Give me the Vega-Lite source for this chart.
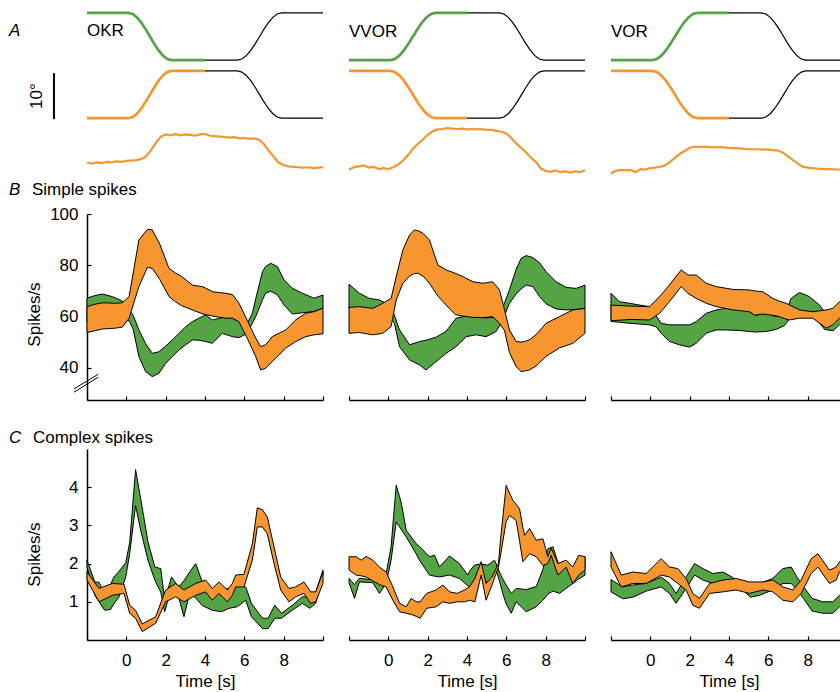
{
"$schema":"https://vega.github.io/schema/vega-lite/v6.json",
"padding":{"left":8,"top":7,"right":5,"bottom":5},
"config":{"view":{"stroke":null},"font":"Liberation Sans",
 "axis":{"domainColor":"black","domainWidth":1.5,"tickColor":"black","tickWidth":1.2,"tickSize":-4,"labelColor":"black","labelFontSize":17,"titleFontSize":17,"titleFontWeight":"normal","titleColor":"black","grid":false},
 "axisX":{"labelPadding":16,"titlePadding":5},
 "axisY":{"labelPadding":13},
 "text":{"fontSize":17,"color":"black"}},
"bounds":"flush",
"columns":3,
"spacing":{"row":49,"column":26},
"datasets":{
"tr":[
{"c":"OKR","s":"1c","t":-2,"v":33.8},{"c":"OKR","s":"1c","t":0.1,"v":33.8},{"c":"OKR","s":"1c","t":0.32,"v":33.55},{"c":"OKR","s":"1c","t":0.54,"v":32.8},{"c":"OKR","s":"1c","t":0.76,"v":31.64},{"c":"OKR","s":"1c","t":0.98,"v":30.18},{"c":"OKR","s":"1c","t":1.2,"v":28.55},{"c":"OKR","s":"1c","t":1.42,"v":26.92},{"c":"OKR","s":"1c","t":1.64,"v":25.46},{"c":"OKR","s":"1c","t":1.86,"v":24.3},{"c":"OKR","s":"1c","t":2.08,"v":23.55},{"c":"OKR","s":"1c","t":2.3,"v":23.3},{"c":"OKR","s":"1c","t":4,"v":23.3},
{"c":"OKR","s":"1k","t":4,"v":23.3},{"c":"OKR","s":"1k","t":5.65,"v":23.3},{"c":"OKR","s":"1k","t":5.875,"v":23.55},{"c":"OKR","s":"1k","t":6.1,"v":24.3},{"c":"OKR","s":"1k","t":6.325,"v":25.46},{"c":"OKR","s":"1k","t":6.55,"v":26.92},{"c":"OKR","s":"1k","t":6.775,"v":28.55},{"c":"OKR","s":"1k","t":7,"v":30.18},{"c":"OKR","s":"1k","t":7.225,"v":31.64},{"c":"OKR","s":"1k","t":7.45,"v":32.8},{"c":"OKR","s":"1k","t":7.675,"v":33.55},{"c":"OKR","s":"1k","t":7.9,"v":33.8},{"c":"OKR","s":"1k","t":10,"v":33.8},
{"c":"OKR","s":"2c","t":-2,"v":10.4},{"c":"OKR","s":"2c","t":0.1,"v":10.4},{"c":"OKR","s":"2c","t":0.32,"v":10.65},{"c":"OKR","s":"2c","t":0.54,"v":11.4},{"c":"OKR","s":"2c","t":0.76,"v":12.56},{"c":"OKR","s":"2c","t":0.98,"v":14.02},{"c":"OKR","s":"2c","t":1.2,"v":15.65},{"c":"OKR","s":"2c","t":1.42,"v":17.28},{"c":"OKR","s":"2c","t":1.64,"v":18.74},{"c":"OKR","s":"2c","t":1.86,"v":19.9},{"c":"OKR","s":"2c","t":2.08,"v":20.65},{"c":"OKR","s":"2c","t":2.3,"v":20.9},{"c":"OKR","s":"2c","t":4,"v":20.9},
{"c":"OKR","s":"2k","t":4,"v":20.9},{"c":"OKR","s":"2k","t":5.65,"v":20.9},{"c":"OKR","s":"2k","t":5.875,"v":20.65},{"c":"OKR","s":"2k","t":6.1,"v":19.9},{"c":"OKR","s":"2k","t":6.325,"v":18.74},{"c":"OKR","s":"2k","t":6.55,"v":17.28},{"c":"OKR","s":"2k","t":6.775,"v":15.65},{"c":"OKR","s":"2k","t":7,"v":14.02},{"c":"OKR","s":"2k","t":7.225,"v":12.56},{"c":"OKR","s":"2k","t":7.45,"v":11.4},{"c":"OKR","s":"2k","t":7.675,"v":10.65},{"c":"OKR","s":"2k","t":7.9,"v":10.4},{"c":"OKR","s":"2k","t":10,"v":10.4},
{"c":"OKR","s":"3","t":-2,"v":0.5},{"c":"OKR","s":"3","t":-1.75,"v":0.3},{"c":"OKR","s":"3","t":-1.5,"v":0.6},{"c":"OKR","s":"3","t":-1.25,"v":0.4},{"c":"OKR","s":"3","t":-1,"v":0.7},{"c":"OKR","s":"3","t":-0.75,"v":0.6},{"c":"OKR","s":"3","t":-0.5,"v":0.8},{"c":"OKR","s":"3","t":-0.25,"v":0.7},{"c":"OKR","s":"3","t":0,"v":0.9},{"c":"OKR","s":"3","t":0.25,"v":1.0},{"c":"OKR","s":"3","t":0.5,"v":1.1},{"c":"OKR","s":"3","t":0.75,"v":1.3},{"c":"OKR","s":"3","t":1,"v":1.9},{"c":"OKR","s":"3","t":1.25,"v":3.3},{"c":"OKR","s":"3","t":1.5,"v":4.9},{"c":"OKR","s":"3","t":1.75,"v":6.3},{"c":"OKR","s":"3","t":2,"v":6.8},{"c":"OKR","s":"3","t":2.25,"v":6.6},{"c":"OKR","s":"3","t":2.5,"v":6.9},{"c":"OKR","s":"3","t":2.75,"v":6.6},{"c":"OKR","s":"3","t":3,"v":6.8},{"c":"OKR","s":"3","t":3.25,"v":6.7},{"c":"OKR","s":"3","t":3.5,"v":6.5},{"c":"OKR","s":"3","t":3.75,"v":6.8},{"c":"OKR","s":"3","t":4,"v":6.9},{"c":"OKR","s":"3","t":4.25,"v":6.5},{"c":"OKR","s":"3","t":4.5,"v":6.4},{"c":"OKR","s":"3","t":4.75,"v":6.3},{"c":"OKR","s":"3","t":5,"v":6.2},{"c":"OKR","s":"3","t":5.25,"v":6.1},{"c":"OKR","s":"3","t":5.5,"v":6.2},{"c":"OKR","s":"3","t":5.75,"v":5.9},{"c":"OKR","s":"3","t":6,"v":6.0},{"c":"OKR","s":"3","t":6.25,"v":5.8},{"c":"OKR","s":"3","t":6.5,"v":5.9},{"c":"OKR","s":"3","t":6.75,"v":5.6},{"c":"OKR","s":"3","t":7,"v":4.6},{"c":"OKR","s":"3","t":7.25,"v":3.1},{"c":"OKR","s":"3","t":7.5,"v":1.8},{"c":"OKR","s":"3","t":7.75,"v":0.5},{"c":"OKR","s":"3","t":8,"v":0.0},{"c":"OKR","s":"3","t":8.25,"v":-0.3},{"c":"OKR","s":"3","t":8.5,"v":-0.4},{"c":"OKR","s":"3","t":8.75,"v":-0.5},{"c":"OKR","s":"3","t":9,"v":-0.6},{"c":"OKR","s":"3","t":9.25,"v":-0.5},{"c":"OKR","s":"3","t":9.5,"v":-0.7},{"c":"OKR","s":"3","t":9.75,"v":-0.6},{"c":"OKR","s":"3","t":10,"v":-0.5},
{"c":"VVOR","s":"1c","t":-2,"v":23.3},{"c":"VVOR","s":"1c","t":0.1,"v":23.3},{"c":"VVOR","s":"1c","t":0.33,"v":23.55},{"c":"VVOR","s":"1c","t":0.56,"v":24.3},{"c":"VVOR","s":"1c","t":0.79,"v":25.46},{"c":"VVOR","s":"1c","t":1.02,"v":26.92},{"c":"VVOR","s":"1c","t":1.25,"v":28.55},{"c":"VVOR","s":"1c","t":1.48,"v":30.18},{"c":"VVOR","s":"1c","t":1.71,"v":31.64},{"c":"VVOR","s":"1c","t":1.94,"v":32.8},{"c":"VVOR","s":"1c","t":2.17,"v":33.55},{"c":"VVOR","s":"1c","t":2.4,"v":33.8},{"c":"VVOR","s":"1c","t":4,"v":33.8},
{"c":"VVOR","s":"1k","t":4,"v":33.8},{"c":"VVOR","s":"1k","t":5.65,"v":33.8},{"c":"VVOR","s":"1k","t":5.875,"v":33.55},{"c":"VVOR","s":"1k","t":6.1,"v":32.8},{"c":"VVOR","s":"1k","t":6.325,"v":31.64},{"c":"VVOR","s":"1k","t":6.55,"v":30.18},{"c":"VVOR","s":"1k","t":6.775,"v":28.55},{"c":"VVOR","s":"1k","t":7,"v":26.92},{"c":"VVOR","s":"1k","t":7.225,"v":25.46},{"c":"VVOR","s":"1k","t":7.45,"v":24.3},{"c":"VVOR","s":"1k","t":7.675,"v":23.55},{"c":"VVOR","s":"1k","t":7.9,"v":23.3},{"c":"VVOR","s":"1k","t":10,"v":23.3},
{"c":"VVOR","s":"2c","t":-2,"v":20.9},{"c":"VVOR","s":"2c","t":0.1,"v":20.9},{"c":"VVOR","s":"2c","t":0.33,"v":20.65},{"c":"VVOR","s":"2c","t":0.56,"v":19.9},{"c":"VVOR","s":"2c","t":0.79,"v":18.74},{"c":"VVOR","s":"2c","t":1.02,"v":17.28},{"c":"VVOR","s":"2c","t":1.25,"v":15.65},{"c":"VVOR","s":"2c","t":1.48,"v":14.02},{"c":"VVOR","s":"2c","t":1.71,"v":12.56},{"c":"VVOR","s":"2c","t":1.94,"v":11.4},{"c":"VVOR","s":"2c","t":2.17,"v":10.65},{"c":"VVOR","s":"2c","t":2.4,"v":10.4},{"c":"VVOR","s":"2c","t":4,"v":10.4},
{"c":"VVOR","s":"2k","t":4,"v":10.4},{"c":"VVOR","s":"2k","t":5.65,"v":10.4},{"c":"VVOR","s":"2k","t":5.875,"v":10.65},{"c":"VVOR","s":"2k","t":6.1,"v":11.4},{"c":"VVOR","s":"2k","t":6.325,"v":12.56},{"c":"VVOR","s":"2k","t":6.55,"v":14.02},{"c":"VVOR","s":"2k","t":6.775,"v":15.65},{"c":"VVOR","s":"2k","t":7,"v":17.28},{"c":"VVOR","s":"2k","t":7.225,"v":18.74},{"c":"VVOR","s":"2k","t":7.45,"v":19.9},{"c":"VVOR","s":"2k","t":7.675,"v":20.65},{"c":"VVOR","s":"2k","t":7.9,"v":20.9},{"c":"VVOR","s":"2k","t":10,"v":20.9},
{"c":"VVOR","s":"3","t":-2,"v":-1.0},{"c":"VVOR","s":"3","t":-1.75,"v":-0.5},{"c":"VVOR","s":"3","t":-1.5,"v":-0.3},{"c":"VVOR","s":"3","t":-1.25,"v":-0.1},{"c":"VVOR","s":"3","t":-1,"v":-0.6},{"c":"VVOR","s":"3","t":-0.75,"v":-0.4},{"c":"VVOR","s":"3","t":-0.5,"v":-0.9},{"c":"VVOR","s":"3","t":-0.25,"v":-0.7},{"c":"VVOR","s":"3","t":0,"v":-0.9},{"c":"VVOR","s":"3","t":0.25,"v":-0.5},{"c":"VVOR","s":"3","t":0.5,"v":0.1},{"c":"VVOR","s":"3","t":0.75,"v":1.0},{"c":"VVOR","s":"3","t":1,"v":2.2},{"c":"VVOR","s":"3","t":1.25,"v":3.6},{"c":"VVOR","s":"3","t":1.5,"v":4.7},{"c":"VVOR","s":"3","t":1.75,"v":5.6},{"c":"VVOR","s":"3","t":2,"v":6.7},{"c":"VVOR","s":"3","t":2.25,"v":7.5},{"c":"VVOR","s":"3","t":2.5,"v":7.9},{"c":"VVOR","s":"3","t":2.75,"v":8.0},{"c":"VVOR","s":"3","t":3,"v":8.2},{"c":"VVOR","s":"3","t":3.25,"v":8.1},{"c":"VVOR","s":"3","t":3.5,"v":8.0},{"c":"VVOR","s":"3","t":3.75,"v":8.1},{"c":"VVOR","s":"3","t":4,"v":7.9},{"c":"VVOR","s":"3","t":4.25,"v":8.0},{"c":"VVOR","s":"3","t":4.5,"v":7.9},{"c":"VVOR","s":"3","t":4.75,"v":8.0},{"c":"VVOR","s":"3","t":5,"v":7.8},{"c":"VVOR","s":"3","t":5.25,"v":7.8},{"c":"VVOR","s":"3","t":5.5,"v":7.6},{"c":"VVOR","s":"3","t":5.75,"v":7.4},{"c":"VVOR","s":"3","t":6,"v":7.0},{"c":"VVOR","s":"3","t":6.25,"v":6.0},{"c":"VVOR","s":"3","t":6.5,"v":4.8},{"c":"VVOR","s":"3","t":6.75,"v":3.8},{"c":"VVOR","s":"3","t":7,"v":2.8},{"c":"VVOR","s":"3","t":7.25,"v":1.6},{"c":"VVOR","s":"3","t":7.5,"v":0.7},{"c":"VVOR","s":"3","t":7.75,"v":-0.8},{"c":"VVOR","s":"3","t":8,"v":-1.3},{"c":"VVOR","s":"3","t":8.25,"v":-1.5},{"c":"VVOR","s":"3","t":8.5,"v":-1.2},{"c":"VVOR","s":"3","t":8.75,"v":-1.6},{"c":"VVOR","s":"3","t":9,"v":-1.4},{"c":"VVOR","s":"3","t":9.25,"v":-1.7},{"c":"VVOR","s":"3","t":9.5,"v":-1.4},{"c":"VVOR","s":"3","t":9.75,"v":-1.6},{"c":"VVOR","s":"3","t":10,"v":-1.2},
{"c":"VOR","s":"1c","t":-2,"v":23.3},{"c":"VOR","s":"1c","t":0.1,"v":23.3},{"c":"VOR","s":"1c","t":0.33,"v":23.55},{"c":"VOR","s":"1c","t":0.56,"v":24.3},{"c":"VOR","s":"1c","t":0.79,"v":25.46},{"c":"VOR","s":"1c","t":1.02,"v":26.92},{"c":"VOR","s":"1c","t":1.25,"v":28.55},{"c":"VOR","s":"1c","t":1.48,"v":30.18},{"c":"VOR","s":"1c","t":1.71,"v":31.64},{"c":"VOR","s":"1c","t":1.94,"v":32.8},{"c":"VOR","s":"1c","t":2.17,"v":33.55},{"c":"VOR","s":"1c","t":2.4,"v":33.8},{"c":"VOR","s":"1c","t":4,"v":33.8},
{"c":"VOR","s":"1k","t":4,"v":33.8},{"c":"VOR","s":"1k","t":5.65,"v":33.8},{"c":"VOR","s":"1k","t":5.875,"v":33.55},{"c":"VOR","s":"1k","t":6.1,"v":32.8},{"c":"VOR","s":"1k","t":6.325,"v":31.64},{"c":"VOR","s":"1k","t":6.55,"v":30.18},{"c":"VOR","s":"1k","t":6.775,"v":28.55},{"c":"VOR","s":"1k","t":7,"v":26.92},{"c":"VOR","s":"1k","t":7.225,"v":25.46},{"c":"VOR","s":"1k","t":7.45,"v":24.3},{"c":"VOR","s":"1k","t":7.675,"v":23.55},{"c":"VOR","s":"1k","t":7.9,"v":23.3},{"c":"VOR","s":"1k","t":10,"v":23.3},
{"c":"VOR","s":"2c","t":-2,"v":20.9},{"c":"VOR","s":"2c","t":0.1,"v":20.9},{"c":"VOR","s":"2c","t":0.33,"v":20.65},{"c":"VOR","s":"2c","t":0.56,"v":19.9},{"c":"VOR","s":"2c","t":0.79,"v":18.74},{"c":"VOR","s":"2c","t":1.02,"v":17.28},{"c":"VOR","s":"2c","t":1.25,"v":15.65},{"c":"VOR","s":"2c","t":1.48,"v":14.02},{"c":"VOR","s":"2c","t":1.71,"v":12.56},{"c":"VOR","s":"2c","t":1.94,"v":11.4},{"c":"VOR","s":"2c","t":2.17,"v":10.65},{"c":"VOR","s":"2c","t":2.4,"v":10.4},{"c":"VOR","s":"2c","t":4,"v":10.4},
{"c":"VOR","s":"2k","t":4,"v":10.4},{"c":"VOR","s":"2k","t":5.65,"v":10.4},{"c":"VOR","s":"2k","t":5.875,"v":10.65},{"c":"VOR","s":"2k","t":6.1,"v":11.4},{"c":"VOR","s":"2k","t":6.325,"v":12.56},{"c":"VOR","s":"2k","t":6.55,"v":14.02},{"c":"VOR","s":"2k","t":6.775,"v":15.65},{"c":"VOR","s":"2k","t":7,"v":17.28},{"c":"VOR","s":"2k","t":7.225,"v":18.74},{"c":"VOR","s":"2k","t":7.45,"v":19.9},{"c":"VOR","s":"2k","t":7.675,"v":20.65},{"c":"VOR","s":"2k","t":7.9,"v":20.9},{"c":"VOR","s":"2k","t":10,"v":20.9},
{"c":"VOR","s":"3","t":-2,"v":-1.9},{"c":"VOR","s":"3","t":-1.75,"v":-1.3},{"c":"VOR","s":"3","t":-1.5,"v":-1.1},{"c":"VOR","s":"3","t":-1.25,"v":-1.2},{"c":"VOR","s":"3","t":-1,"v":-1.1},{"c":"VOR","s":"3","t":-0.75,"v":-1.6},{"c":"VOR","s":"3","t":-0.5,"v":-0.9},{"c":"VOR","s":"3","t":-0.25,"v":-1.0},{"c":"VOR","s":"3","t":0,"v":-0.7},{"c":"VOR","s":"3","t":0.25,"v":-0.6},{"c":"VOR","s":"3","t":0.5,"v":-0.4},{"c":"VOR","s":"3","t":0.75,"v":-0.1},{"c":"VOR","s":"3","t":1,"v":0.7},{"c":"VOR","s":"3","t":1.25,"v":1.6},{"c":"VOR","s":"3","t":1.5,"v":2.5},{"c":"VOR","s":"3","t":1.75,"v":3.1},{"c":"VOR","s":"3","t":2,"v":3.8},{"c":"VOR","s":"3","t":2.25,"v":4.1},{"c":"VOR","s":"3","t":2.5,"v":4.0},{"c":"VOR","s":"3","t":2.75,"v":4.1},{"c":"VOR","s":"3","t":3,"v":4.0},{"c":"VOR","s":"3","t":3.25,"v":3.9},{"c":"VOR","s":"3","t":3.5,"v":4.0},{"c":"VOR","s":"3","t":3.75,"v":3.9},{"c":"VOR","s":"3","t":4,"v":3.8},{"c":"VOR","s":"3","t":4.5,"v":3.7},{"c":"VOR","s":"3","t":5,"v":3.5},{"c":"VOR","s":"3","t":5.5,"v":3.5},{"c":"VOR","s":"3","t":6,"v":3.4},{"c":"VOR","s":"3","t":6.5,"v":3.2},{"c":"VOR","s":"3","t":6.75,"v":2.7},{"c":"VOR","s":"3","t":7,"v":1.9},{"c":"VOR","s":"3","t":7.25,"v":1.1},{"c":"VOR","s":"3","t":7.5,"v":0.3},{"c":"VOR","s":"3","t":7.75,"v":-0.4},{"c":"VOR","s":"3","t":8,"v":-0.6},{"c":"VOR","s":"3","t":8.5,"v":-0.8},{"c":"VOR","s":"3","t":9,"v":-0.9},{"c":"VOR","s":"3","t":9.5,"v":-1.0},{"c":"VOR","s":"3","t":10,"v":-1.0}
],
"bands":[
{"r":"B","c":"OKR","s":"g","t":-2,"lo":58.0,"hi":67.2},{"r":"B","c":"OKR","s":"g","t":-1.6,"lo":58.4,"hi":68.2},{"r":"B","c":"OKR","s":"g","t":-1.22,"lo":58.5,"hi":68.8},{"r":"B","c":"OKR","s":"g","t":-0.71,"lo":58.0,"hi":67.8},{"r":"B","c":"OKR","s":"g","t":-0.2,"lo":58.5,"hi":66.1},{"r":"B","c":"OKR","s":"g","t":0.14,"lo":58.5,"hi":62.6},{"r":"B","c":"OKR","s":"g","t":0.35,"lo":55.0,"hi":60.5},{"r":"B","c":"OKR","s":"g","t":0.64,"lo":44.4,"hi":54.8},{"r":"B","c":"OKR","s":"g","t":0.98,"lo":38.6,"hi":49.5},{"r":"B","c":"OKR","s":"g","t":1.32,"lo":36.6,"hi":45.7},{"r":"B","c":"OKR","s":"g","t":1.66,"lo":37.9,"hi":46.3},{"r":"B","c":"OKR","s":"g","t":2.0,"lo":41.8,"hi":48.5},{"r":"B","c":"OKR","s":"g","t":2.34,"lo":44.5,"hi":50.9},{"r":"B","c":"OKR","s":"g","t":2.68,"lo":47.0,"hi":53.5},{"r":"B","c":"OKR","s":"g","t":3.02,"lo":49.0,"hi":56.1},{"r":"B","c":"OKR","s":"g","t":3.36,"lo":50.9,"hi":58.0},{"r":"B","c":"OKR","s":"g","t":3.69,"lo":50.8,"hi":59.4},{"r":"B","c":"OKR","s":"g","t":4.03,"lo":50.3,"hi":60.7},{"r":"B","c":"OKR","s":"g","t":4.37,"lo":49.6,"hi":58.7},{"r":"B","c":"OKR","s":"g","t":4.88,"lo":53.5,"hi":59.6},{"r":"B","c":"OKR","s":"g","t":5.39,"lo":52.2,"hi":59.4},{"r":"B","c":"OKR","s":"g","t":5.73,"lo":51.8,"hi":58.0},{"r":"B","c":"OKR","s":"g","t":6.15,"lo":53.5,"hi":57.4},{"r":"B","c":"OKR","s":"g","t":6.41,"lo":57.5,"hi":61.3},{"r":"B","c":"OKR","s":"g","t":6.58,"lo":60.0,"hi":67.0},{"r":"B","c":"OKR","s":"g","t":6.92,"lo":66.5,"hi":77.5},{"r":"B","c":"OKR","s":"g","t":7.08,"lo":69.1,"hi":79.5},{"r":"B","c":"OKR","s":"g","t":7.34,"lo":69.9,"hi":80.8},{"r":"B","c":"OKR","s":"g","t":7.68,"lo":68.5,"hi":79.5},{"r":"B","c":"OKR","s":"g","t":8.02,"lo":64.5,"hi":74.3},{"r":"B","c":"OKR","s":"g","t":8.44,"lo":61.0,"hi":71.1},{"r":"B","c":"OKR","s":"g","t":8.95,"lo":61.5,"hi":69.1},{"r":"B","c":"OKR","s":"g","t":9.54,"lo":62.0,"hi":67.2},{"r":"B","c":"OKR","s":"g","t":10,"lo":63.3,"hi":68.4},
{"r":"B","c":"OKR","s":"o","t":-2,"lo":53.8,"hi":63.9},{"r":"B","c":"OKR","s":"o","t":-1.6,"lo":54.5,"hi":64.8},{"r":"B","c":"OKR","s":"o","t":-1.2,"lo":55.2,"hi":65.4},{"r":"B","c":"OKR","s":"o","t":-0.55,"lo":55.5,"hi":65.2},{"r":"B","c":"OKR","s":"o","t":-0.2,"lo":55.9,"hi":65.4},{"r":"B","c":"OKR","s":"o","t":0.14,"lo":59.4,"hi":67.8},{"r":"B","c":"OKR","s":"o","t":0.64,"lo":71.7,"hi":89.9},{"r":"B","c":"OKR","s":"o","t":1.07,"lo":79.2,"hi":94.0},{"r":"B","c":"OKR","s":"o","t":1.32,"lo":78.8,"hi":93.8},{"r":"B","c":"OKR","s":"o","t":1.7,"lo":74.5,"hi":88.3},{"r":"B","c":"OKR","s":"o","t":2.17,"lo":67.8,"hi":78.8},{"r":"B","c":"OKR","s":"o","t":2.5,"lo":65.8,"hi":77.0},{"r":"B","c":"OKR","s":"o","t":2.8,"lo":64.3,"hi":75.7},{"r":"B","c":"OKR","s":"o","t":3.36,"lo":62.6,"hi":72.3},{"r":"B","c":"OKR","s":"o","t":3.9,"lo":61.0,"hi":71.6},{"r":"B","c":"OKR","s":"o","t":4.4,"lo":60.2,"hi":69.7},{"r":"B","c":"OKR","s":"o","t":5.05,"lo":59.4,"hi":69.1},{"r":"B","c":"OKR","s":"o","t":5.4,"lo":59.4,"hi":68.6},{"r":"B","c":"OKR","s":"o","t":5.73,"lo":58.0,"hi":65.2},{"r":"B","c":"OKR","s":"o","t":6.15,"lo":51.5,"hi":58.5},{"r":"B","c":"OKR","s":"o","t":6.58,"lo":44.4,"hi":51.6},{"r":"B","c":"OKR","s":"o","t":6.83,"lo":39.2,"hi":48.3},{"r":"B","c":"OKR","s":"o","t":7.08,"lo":39.9,"hi":49.0},{"r":"B","c":"OKR","s":"o","t":7.42,"lo":42.5,"hi":52.2},{"r":"B","c":"OKR","s":"o","t":8.1,"lo":47.7,"hi":54.8},{"r":"B","c":"OKR","s":"o","t":8.61,"lo":50.3,"hi":58.7},{"r":"B","c":"OKR","s":"o","t":9.12,"lo":52.2,"hi":61.3},{"r":"B","c":"OKR","s":"o","t":9.54,"lo":52.9,"hi":61.9},{"r":"B","c":"OKR","s":"o","t":10,"lo":53.3,"hi":63.3},
{"r":"B","c":"VVOR","s":"g","t":-2,"lo":63.0,"hi":72.6},{"r":"B","c":"VVOR","s":"g","t":-1.47,"lo":62.5,"hi":69.1},{"r":"B","c":"VVOR","s":"g","t":-0.96,"lo":62.0,"hi":67.1},{"r":"B","c":"VVOR","s":"g","t":-0.45,"lo":62.0,"hi":66.5},{"r":"B","c":"VVOR","s":"g","t":0.06,"lo":60.0,"hi":64.5},{"r":"B","c":"VVOR","s":"g","t":0.31,"lo":57.4,"hi":60.5},{"r":"B","c":"VVOR","s":"g","t":0.57,"lo":48.3,"hi":54.8},{"r":"B","c":"VVOR","s":"g","t":1.08,"lo":43.1,"hi":49.0},{"r":"B","c":"VVOR","s":"g","t":1.58,"lo":41.2,"hi":50.3},{"r":"B","c":"VVOR","s":"g","t":1.92,"lo":39.2,"hi":50.8},{"r":"B","c":"VVOR","s":"g","t":2.43,"lo":42.5,"hi":52.0},{"r":"B","c":"VVOR","s":"g","t":2.94,"lo":45.7,"hi":54.3},{"r":"B","c":"VVOR","s":"g","t":3.45,"lo":48.3,"hi":59.4},{"r":"B","c":"VVOR","s":"g","t":3.96,"lo":52.2,"hi":60.3},{"r":"B","c":"VVOR","s":"g","t":4.47,"lo":52.9,"hi":59.8},{"r":"B","c":"VVOR","s":"g","t":4.97,"lo":52.2,"hi":59.5},{"r":"B","c":"VVOR","s":"g","t":5.48,"lo":54.2,"hi":59.7},{"r":"B","c":"VVOR","s":"g","t":5.82,"lo":58.7,"hi":63.5},{"r":"B","c":"VVOR","s":"g","t":6.16,"lo":65.2,"hi":70.5},{"r":"B","c":"VVOR","s":"g","t":6.5,"lo":68.8,"hi":78.5},{"r":"B","c":"VVOR","s":"g","t":6.75,"lo":70.8,"hi":82.7},{"r":"B","c":"VVOR","s":"g","t":7.01,"lo":72.3,"hi":83.8},{"r":"B","c":"VVOR","s":"g","t":7.35,"lo":71.7,"hi":83.0},{"r":"B","c":"VVOR","s":"g","t":7.69,"lo":67.8,"hi":81.0},{"r":"B","c":"VVOR","s":"g","t":8.02,"lo":65.0,"hi":77.5},{"r":"B","c":"VVOR","s":"g","t":8.53,"lo":63.0,"hi":73.6},{"r":"B","c":"VVOR","s":"g","t":9.04,"lo":62.6,"hi":71.4},{"r":"B","c":"VVOR","s":"g","t":9.55,"lo":62.8,"hi":71.0},{"r":"B","c":"VVOR","s":"g","t":10,"lo":63.2,"hi":72.3},
{"r":"B","c":"VVOR","s":"o","t":-2,"lo":53.5,"hi":63.6},{"r":"B","c":"VVOR","s":"o","t":-1.47,"lo":53.8,"hi":63.9},{"r":"B","c":"VVOR","s":"o","t":-0.79,"lo":52.9,"hi":63.2},{"r":"B","c":"VVOR","s":"o","t":-0.28,"lo":53.5,"hi":65.2},{"r":"B","c":"VVOR","s":"o","t":0.14,"lo":56.1,"hi":67.1},{"r":"B","c":"VVOR","s":"o","t":0.4,"lo":66.5,"hi":75.6},{"r":"B","c":"VVOR","s":"o","t":0.74,"lo":73.0,"hi":86.0},{"r":"B","c":"VVOR","s":"o","t":1.08,"lo":75.8,"hi":91.8},{"r":"B","c":"VVOR","s":"o","t":1.33,"lo":76.8,"hi":93.8},{"r":"B","c":"VVOR","s":"o","t":1.5,"lo":76.9,"hi":93.5},{"r":"B","c":"VVOR","s":"o","t":1.76,"lo":75.8,"hi":92.5},{"r":"B","c":"VVOR","s":"o","t":2.09,"lo":73.0,"hi":89.9},{"r":"B","c":"VVOR","s":"o","t":2.52,"lo":68.0,"hi":80.1},{"r":"B","c":"VVOR","s":"o","t":2.94,"lo":64.5,"hi":78.2},{"r":"B","c":"VVOR","s":"o","t":3.4,"lo":60.8,"hi":76.9},{"r":"B","c":"VVOR","s":"o","t":3.79,"lo":60.2,"hi":75.6},{"r":"B","c":"VVOR","s":"o","t":4.3,"lo":59.7,"hi":73.6},{"r":"B","c":"VVOR","s":"o","t":4.81,"lo":59.6,"hi":73.0},{"r":"B","c":"VVOR","s":"o","t":5.31,"lo":60.0,"hi":73.6},{"r":"B","c":"VVOR","s":"o","t":5.65,"lo":57.4,"hi":70.4},{"r":"B","c":"VVOR","s":"o","t":5.91,"lo":54.5,"hi":62.6},{"r":"B","c":"VVOR","s":"o","t":6.16,"lo":46.0,"hi":54.8},{"r":"B","c":"VVOR","s":"o","t":6.5,"lo":40.5,"hi":50.3},{"r":"B","c":"VVOR","s":"o","t":6.75,"lo":38.6,"hi":50.1},{"r":"B","c":"VVOR","s":"o","t":6.93,"lo":38.8,"hi":50.3},{"r":"B","c":"VVOR","s":"o","t":7.18,"lo":39.2,"hi":51.0},{"r":"B","c":"VVOR","s":"o","t":7.52,"lo":40.8,"hi":53.0},{"r":"B","c":"VVOR","s":"o","t":8.02,"lo":44.5,"hi":57.4},{"r":"B","c":"VVOR","s":"o","t":8.7,"lo":47.8,"hi":60.0},{"r":"B","c":"VVOR","s":"o","t":9.38,"lo":49.6,"hi":62.6},{"r":"B","c":"VVOR","s":"o","t":10,"lo":53.5,"hi":63.2},
{"r":"B","c":"VOR","s":"g","t":-2,"lo":58.1,"hi":69.1},{"r":"B","c":"VOR","s":"g","t":-1.57,"lo":57.8,"hi":65.8},{"r":"B","c":"VOR","s":"g","t":-1.06,"lo":57.4,"hi":65.2},{"r":"B","c":"VOR","s":"g","t":-0.55,"lo":57.1,"hi":64.5},{"r":"B","c":"VOR","s":"g","t":-0.04,"lo":56.8,"hi":63.9},{"r":"B","c":"VOR","s":"g","t":0.3,"lo":56.0,"hi":60.3},{"r":"B","c":"VOR","s":"g","t":0.55,"lo":53.5,"hi":57.4},{"r":"B","c":"VOR","s":"g","t":0.97,"lo":50.3,"hi":56.8},{"r":"B","c":"VOR","s":"g","t":1.48,"lo":49.0,"hi":56.8},{"r":"B","c":"VOR","s":"g","t":1.99,"lo":48.1,"hi":56.8},{"r":"B","c":"VOR","s":"g","t":2.33,"lo":49.6,"hi":58.0},{"r":"B","c":"VOR","s":"g","t":2.84,"lo":53.5,"hi":61.3},{"r":"B","c":"VOR","s":"g","t":3.35,"lo":54.8,"hi":62.6},{"r":"B","c":"VOR","s":"g","t":3.86,"lo":54.8,"hi":63.2},{"r":"B","c":"VOR","s":"g","t":4.53,"lo":54.6,"hi":63.2},{"r":"B","c":"VOR","s":"g","t":5.04,"lo":54.2,"hi":61.9},{"r":"B","c":"VOR","s":"g","t":5.38,"lo":54.0,"hi":60.6},{"r":"B","c":"VOR","s":"g","t":5.89,"lo":54.2,"hi":61.3},{"r":"B","c":"VOR","s":"g","t":6.4,"lo":55.0,"hi":60.0},{"r":"B","c":"VOR","s":"g","t":6.82,"lo":56.5,"hi":60.5},{"r":"B","c":"VOR","s":"g","t":7.16,"lo":60.0,"hi":67.1},{"r":"B","c":"VOR","s":"g","t":7.58,"lo":61.3,"hi":69.4},{"r":"B","c":"VOR","s":"g","t":8.09,"lo":61.3,"hi":67.8},{"r":"B","c":"VOR","s":"g","t":8.6,"lo":57.5,"hi":64.5},{"r":"B","c":"VOR","s":"g","t":8.86,"lo":55.0,"hi":61.9},{"r":"B","c":"VOR","s":"g","t":9.29,"lo":54.5,"hi":60.0},{"r":"B","c":"VOR","s":"g","t":9.62,"lo":56.8,"hi":61.0},{"r":"B","c":"VOR","s":"g","t":10,"lo":57.5,"hi":62.0},
{"r":"B","c":"VOR","s":"o","t":-2,"lo":58.4,"hi":64.5},{"r":"B","c":"VOR","s":"o","t":-1.0,"lo":58.9,"hi":64.1},{"r":"B","c":"VOR","s":"o","t":-0.04,"lo":58.7,"hi":63.9},{"r":"B","c":"VOR","s":"o","t":0.47,"lo":61.3,"hi":67.8},{"r":"B","c":"VOR","s":"o","t":0.97,"lo":65.8,"hi":72.3},{"r":"B","c":"VOR","s":"o","t":1.57,"lo":71.7,"hi":78.2},{"r":"B","c":"VOR","s":"o","t":1.91,"lo":69.1,"hi":76.2},{"r":"B","c":"VOR","s":"o","t":2.33,"lo":67.1,"hi":76.2},{"r":"B","c":"VOR","s":"o","t":2.84,"lo":65.2,"hi":73.0},{"r":"B","c":"VOR","s":"o","t":3.35,"lo":63.9,"hi":71.7},{"r":"B","c":"VOR","s":"o","t":4.2,"lo":62.6,"hi":70.6},{"r":"B","c":"VOR","s":"o","t":5.04,"lo":61.9,"hi":70.4},{"r":"B","c":"VOR","s":"o","t":5.3,"lo":60.6,"hi":70.0},{"r":"B","c":"VOR","s":"o","t":5.72,"lo":61.0,"hi":69.7},{"r":"B","c":"VOR","s":"o","t":6.23,"lo":60.5,"hi":67.1},{"r":"B","c":"VOR","s":"o","t":6.57,"lo":60.0,"hi":66.0},{"r":"B","c":"VOR","s":"o","t":6.91,"lo":59.0,"hi":65.2},{"r":"B","c":"VOR","s":"o","t":7.08,"lo":58.7,"hi":64.5},{"r":"B","c":"VOR","s":"o","t":7.58,"lo":59.4,"hi":62.6},{"r":"B","c":"VOR","s":"o","t":8.26,"lo":59.4,"hi":61.9},{"r":"B","c":"VOR","s":"o","t":8.94,"lo":55.5,"hi":62.6},{"r":"B","c":"VOR","s":"o","t":9.28,"lo":56.8,"hi":63.2},{"r":"B","c":"VOR","s":"o","t":9.62,"lo":59.4,"hi":65.8},{"r":"B","c":"VOR","s":"o","t":10,"lo":61.5,"hi":68.0},
{"r":"C","c":"OKR","s":"g","t":-2,"lo":1.91,"hi":2.09},{"r":"C","c":"OKR","s":"g","t":-1.6,"lo":1.17,"hi":1.52},{"r":"C","c":"OKR","s":"g","t":-1.39,"lo":1.0,"hi":1.51},{"r":"C","c":"OKR","s":"g","t":-1.1,"lo":0.78,"hi":1.22},{"r":"C","c":"OKR","s":"g","t":-0.8,"lo":0.8,"hi":1.45},{"r":"C","c":"OKR","s":"g","t":-0.63,"lo":0.95,"hi":1.65},{"r":"C","c":"OKR","s":"g","t":-0.37,"lo":1.13,"hi":1.8},{"r":"C","c":"OKR","s":"g","t":-0.03,"lo":1.65,"hi":2.02},{"r":"C","c":"OKR","s":"g","t":0.17,"lo":2.26,"hi":2.55},{"r":"C","c":"OKR","s":"g","t":0.47,"lo":3.52,"hi":4.46},{"r":"C","c":"OKR","s":"g","t":0.73,"lo":2.87,"hi":3.7},{"r":"C","c":"OKR","s":"g","t":1.1,"lo":2.09,"hi":2.57},{"r":"C","c":"OKR","s":"g","t":1.45,"lo":1.57,"hi":1.91},{"r":"C","c":"OKR","s":"g","t":1.75,"lo":1.25,"hi":1.87},{"r":"C","c":"OKR","s":"g","t":1.95,"lo":0.74,"hi":1.04},{"r":"C","c":"OKR","s":"g","t":2.3,"lo":1.39,"hi":1.65},{"r":"C","c":"OKR","s":"g","t":2.65,"lo":1.13,"hi":1.39},{"r":"C","c":"OKR","s":"g","t":2.93,"lo":0.61,"hi":1.55},{"r":"C","c":"OKR","s":"g","t":3.22,"lo":1.22,"hi":1.78},{"r":"C","c":"OKR","s":"g","t":3.53,"lo":1.1,"hi":2.0},{"r":"C","c":"OKR","s":"g","t":3.86,"lo":0.9,"hi":1.52},{"r":"C","c":"OKR","s":"g","t":4.37,"lo":0.78,"hi":1.35},{"r":"C","c":"OKR","s":"g","t":4.84,"lo":0.74,"hi":1.31},{"r":"C","c":"OKR","s":"g","t":5.22,"lo":0.83,"hi":1.35},{"r":"C","c":"OKR","s":"g","t":5.64,"lo":0.87,"hi":1.43},{"r":"C","c":"OKR","s":"g","t":6.07,"lo":1.04,"hi":1.39},{"r":"C","c":"OKR","s":"g","t":6.36,"lo":0.61,"hi":0.96},{"r":"C","c":"OKR","s":"g","t":6.92,"lo":0.3,"hi":0.57},{"r":"C","c":"OKR","s":"g","t":7.21,"lo":0.3,"hi":0.57},{"r":"C","c":"OKR","s":"g","t":7.55,"lo":0.57,"hi":0.91},{"r":"C","c":"OKR","s":"g","t":7.89,"lo":0.57,"hi":0.7},{"r":"C","c":"OKR","s":"g","t":8.44,"lo":0.78,"hi":0.91},{"r":"C","c":"OKR","s":"g","t":8.95,"lo":0.96,"hi":1.13},{"r":"C","c":"OKR","s":"g","t":9.33,"lo":0.83,"hi":1.13},{"r":"C","c":"OKR","s":"g","t":9.63,"lo":0.96,"hi":1.26},{"r":"C","c":"OKR","s":"g","t":10,"lo":1.7,"hi":1.83},
{"r":"C","c":"OKR","s":"o","t":-2,"lo":1.57,"hi":1.78},{"r":"C","c":"OKR","s":"o","t":-1.39,"lo":1.0,"hi":1.35},{"r":"C","c":"OKR","s":"o","t":-0.71,"lo":1.17,"hi":1.48},{"r":"C","c":"OKR","s":"o","t":-0.12,"lo":1.22,"hi":1.46},{"r":"C","c":"OKR","s":"o","t":0.17,"lo":0.7,"hi":0.91},{"r":"C","c":"OKR","s":"o","t":0.47,"lo":0.57,"hi":0.78},{"r":"C","c":"OKR","s":"o","t":0.81,"lo":0.22,"hi":0.42},{"r":"C","c":"OKR","s":"o","t":1.49,"lo":0.44,"hi":0.61},{"r":"C","c":"OKR","s":"o","t":2.0,"lo":1.0,"hi":1.31},{"r":"C","c":"OKR","s":"o","t":2.51,"lo":1.13,"hi":1.48},{"r":"C","c":"OKR","s":"o","t":2.93,"lo":1.0,"hi":1.31},{"r":"C","c":"OKR","s":"o","t":3.53,"lo":1.17,"hi":1.48},{"r":"C","c":"OKR","s":"o","t":4.03,"lo":1.26,"hi":1.57},{"r":"C","c":"OKR","s":"o","t":4.37,"lo":1.04,"hi":1.35},{"r":"C","c":"OKR","s":"o","t":4.71,"lo":1.22,"hi":1.52},{"r":"C","c":"OKR","s":"o","t":5.14,"lo":1.0,"hi":1.31},{"r":"C","c":"OKR","s":"o","t":5.39,"lo":1.17,"hi":1.48},{"r":"C","c":"OKR","s":"o","t":5.56,"lo":1.39,"hi":1.7},{"r":"C","c":"OKR","s":"o","t":5.98,"lo":1.39,"hi":1.72},{"r":"C","c":"OKR","s":"o","t":6.41,"lo":2.09,"hi":2.52},{"r":"C","c":"OKR","s":"o","t":6.66,"lo":2.96,"hi":3.46},{"r":"C","c":"OKR","s":"o","t":6.92,"lo":2.96,"hi":3.41},{"r":"C","c":"OKR","s":"o","t":7.17,"lo":2.78,"hi":3.22},{"r":"C","c":"OKR","s":"o","t":7.51,"lo":2.0,"hi":2.44},{"r":"C","c":"OKR","s":"o","t":7.85,"lo":1.31,"hi":1.65},{"r":"C","c":"OKR","s":"o","t":8.27,"lo":1.0,"hi":1.35},{"r":"C","c":"OKR","s":"o","t":8.61,"lo":1.13,"hi":1.39},{"r":"C","c":"OKR","s":"o","t":9.03,"lo":1.22,"hi":1.52},{"r":"C","c":"OKR","s":"o","t":9.37,"lo":0.96,"hi":1.26},{"r":"C","c":"OKR","s":"o","t":9.63,"lo":1.0,"hi":1.26},{"r":"C","c":"OKR","s":"o","t":10,"lo":1.48,"hi":1.78},
{"r":"C","c":"VVOR","s":"g","t":-2,"lo":1.5,"hi":1.61},{"r":"C","c":"VVOR","s":"g","t":-1.72,"lo":1.09,"hi":1.45},{"r":"C","c":"VVOR","s":"g","t":-1.47,"lo":1.52,"hi":1.62},{"r":"C","c":"VVOR","s":"g","t":-0.79,"lo":1.5,"hi":1.57},{"r":"C","c":"VVOR","s":"g","t":-0.45,"lo":1.22,"hi":1.48},{"r":"C","c":"VVOR","s":"g","t":-0.11,"lo":1.48,"hi":1.74},{"r":"C","c":"VVOR","s":"g","t":0.14,"lo":2.09,"hi":2.44},{"r":"C","c":"VVOR","s":"g","t":0.4,"lo":3.09,"hi":4.05},{"r":"C","c":"VVOR","s":"g","t":0.65,"lo":2.9,"hi":3.61},{"r":"C","c":"VVOR","s":"g","t":0.91,"lo":2.7,"hi":2.87},{"r":"C","c":"VVOR","s":"g","t":1.42,"lo":2.25,"hi":2.52},{"r":"C","c":"VVOR","s":"g","t":1.58,"lo":2.09,"hi":2.45},{"r":"C","c":"VVOR","s":"g","t":2.09,"lo":1.7,"hi":2.18},{"r":"C","c":"VVOR","s":"g","t":2.35,"lo":1.67,"hi":2.22},{"r":"C","c":"VVOR","s":"g","t":2.6,"lo":1.65,"hi":1.91},{"r":"C","c":"VVOR","s":"g","t":3.11,"lo":1.7,"hi":2.2},{"r":"C","c":"VVOR","s":"g","t":3.62,"lo":1.61,"hi":2.0},{"r":"C","c":"VVOR","s":"g","t":4.04,"lo":1.42,"hi":1.7},{"r":"C","c":"VVOR","s":"g","t":4.13,"lo":1.39,"hi":1.8},{"r":"C","c":"VVOR","s":"g","t":4.38,"lo":1.55,"hi":1.96},{"r":"C","c":"VVOR","s":"g","t":4.64,"lo":1.7,"hi":1.99},{"r":"C","c":"VVOR","s":"g","t":5.06,"lo":1.48,"hi":1.96},{"r":"C","c":"VVOR","s":"g","t":5.4,"lo":1.75,"hi":2.09},{"r":"C","c":"VVOR","s":"g","t":5.48,"lo":1.83,"hi":2.0},{"r":"C","c":"VVOR","s":"g","t":5.65,"lo":1.55,"hi":1.78},{"r":"C","c":"VVOR","s":"g","t":5.82,"lo":1.22,"hi":1.6},{"r":"C","c":"VVOR","s":"g","t":5.99,"lo":0.95,"hi":1.44},{"r":"C","c":"VVOR","s":"g","t":6.25,"lo":0.7,"hi":1.22},{"r":"C","c":"VVOR","s":"g","t":6.5,"lo":1.0,"hi":1.35},{"r":"C","c":"VVOR","s":"g","t":7.01,"lo":0.74,"hi":1.32},{"r":"C","c":"VVOR","s":"g","t":7.52,"lo":0.87,"hi":1.4},{"r":"C","c":"VVOR","s":"g","t":7.86,"lo":1.04,"hi":1.85},{"r":"C","c":"VVOR","s":"g","t":8.11,"lo":1.2,"hi":2.39},{"r":"C","c":"VVOR","s":"g","t":8.37,"lo":1.28,"hi":2.44},{"r":"C","c":"VVOR","s":"g","t":8.7,"lo":1.22,"hi":1.91},{"r":"C","c":"VVOR","s":"g","t":9.04,"lo":1.35,"hi":2.09},{"r":"C","c":"VVOR","s":"g","t":9.38,"lo":1.48,"hi":1.87},{"r":"C","c":"VVOR","s":"g","t":9.63,"lo":1.58,"hi":2.05},{"r":"C","c":"VVOR","s":"g","t":10,"lo":1.7,"hi":2.18},
{"r":"C","c":"VVOR","s":"o","t":-2,"lo":1.83,"hi":2.18},{"r":"C","c":"VVOR","s":"o","t":-1.64,"lo":1.7,"hi":2.18},{"r":"C","c":"VVOR","s":"o","t":-1.38,"lo":1.68,"hi":2.09},{"r":"C","c":"VVOR","s":"o","t":-1.13,"lo":1.65,"hi":2.19},{"r":"C","c":"VVOR","s":"o","t":-0.79,"lo":1.55,"hi":2.09},{"r":"C","c":"VVOR","s":"o","t":-0.45,"lo":1.45,"hi":1.91},{"r":"C","c":"VVOR","s":"o","t":-0.11,"lo":1.39,"hi":1.78},{"r":"C","c":"VVOR","s":"o","t":0.23,"lo":1.04,"hi":1.39},{"r":"C","c":"VVOR","s":"o","t":0.57,"lo":0.74,"hi":0.96},{"r":"C","c":"VVOR","s":"o","t":0.91,"lo":0.7,"hi":0.87},{"r":"C","c":"VVOR","s":"o","t":1.16,"lo":0.67,"hi":1.09},{"r":"C","c":"VVOR","s":"o","t":1.42,"lo":0.62,"hi":1.0},{"r":"C","c":"VVOR","s":"o","t":1.62,"lo":0.57,"hi":1.0},{"r":"C","c":"VVOR","s":"o","t":1.95,"lo":0.83,"hi":1.22},{"r":"C","c":"VVOR","s":"o","t":2.43,"lo":0.87,"hi":1.31},{"r":"C","c":"VVOR","s":"o","t":2.77,"lo":1.0,"hi":1.44},{"r":"C","c":"VVOR","s":"o","t":3.11,"lo":0.96,"hi":1.26},{"r":"C","c":"VVOR","s":"o","t":3.5,"lo":1.0,"hi":1.22},{"r":"C","c":"VVOR","s":"o","t":3.87,"lo":1.0,"hi":1.31},{"r":"C","c":"VVOR","s":"o","t":4.13,"lo":1.04,"hi":1.39},{"r":"C","c":"VVOR","s":"o","t":4.4,"lo":1.0,"hi":1.61},{"r":"C","c":"VVOR","s":"o","t":4.72,"lo":1.7,"hi":2.05},{"r":"C","c":"VVOR","s":"o","t":4.97,"lo":1.04,"hi":1.48},{"r":"C","c":"VVOR","s":"o","t":5.27,"lo":1.44,"hi":1.65},{"r":"C","c":"VVOR","s":"o","t":5.6,"lo":1.91,"hi":2.0},{"r":"C","c":"VVOR","s":"o","t":5.7,"lo":2.2,"hi":2.6},{"r":"C","c":"VVOR","s":"o","t":5.99,"lo":3.1,"hi":4.05},{"r":"C","c":"VVOR","s":"o","t":6.16,"lo":3.26,"hi":3.85},{"r":"C","c":"VVOR","s":"o","t":6.33,"lo":3.2,"hi":3.66},{"r":"C","c":"VVOR","s":"o","t":6.5,"lo":3.13,"hi":3.55},{"r":"C","c":"VVOR","s":"o","t":6.67,"lo":2.6,"hi":3.44},{"r":"C","c":"VVOR","s":"o","t":6.84,"lo":2.05,"hi":2.95},{"r":"C","c":"VVOR","s":"o","t":6.93,"lo":2.1,"hi":2.74},{"r":"C","c":"VVOR","s":"o","t":7.18,"lo":2.26,"hi":2.92},{"r":"C","c":"VVOR","s":"o","t":7.52,"lo":2.18,"hi":2.61},{"r":"C","c":"VVOR","s":"o","t":7.86,"lo":1.95,"hi":2.65},{"r":"C","c":"VVOR","s":"o","t":8.11,"lo":2.0,"hi":2.18},{"r":"C","c":"VVOR","s":"o","t":8.28,"lo":2.22,"hi":2.4},{"r":"C","c":"VVOR","s":"o","t":8.62,"lo":1.7,"hi":2.0},{"r":"C","c":"VVOR","s":"o","t":9.04,"lo":1.91,"hi":2.09},{"r":"C","c":"VVOR","s":"o","t":9.38,"lo":1.48,"hi":1.91},{"r":"C","c":"VVOR","s":"o","t":9.68,"lo":1.7,"hi":2.22},{"r":"C","c":"VVOR","s":"o","t":10,"lo":1.83,"hi":2.18},
{"r":"C","c":"VOR","s":"g","t":-2,"lo":1.26,"hi":1.58},{"r":"C","c":"VOR","s":"g","t":-1.4,"lo":1.08,"hi":1.39},{"r":"C","c":"VOR","s":"g","t":-0.89,"lo":1.12,"hi":1.44},{"r":"C","c":"VOR","s":"g","t":-0.21,"lo":1.28,"hi":1.48},{"r":"C","c":"VOR","s":"g","t":0.55,"lo":1.39,"hi":1.65},{"r":"C","c":"VOR","s":"g","t":0.97,"lo":1.22,"hi":1.48},{"r":"C","c":"VOR","s":"g","t":1.31,"lo":0.96,"hi":1.22},{"r":"C","c":"VOR","s":"g","t":1.82,"lo":1.35,"hi":1.65},{"r":"C","c":"VOR","s":"g","t":2.25,"lo":1.7,"hi":2.0},{"r":"C","c":"VOR","s":"g","t":2.67,"lo":1.57,"hi":1.87},{"r":"C","c":"VOR","s":"g","t":3.18,"lo":1.48,"hi":1.74},{"r":"C","c":"VOR","s":"g","t":3.69,"lo":1.48,"hi":1.78},{"r":"C","c":"VOR","s":"g","t":4.15,"lo":1.44,"hi":1.65},{"r":"C","c":"VOR","s":"g","t":4.6,"lo":1.35,"hi":1.48},{"r":"C","c":"VOR","s":"g","t":5.1,"lo":1.12,"hi":1.44},{"r":"C","c":"VOR","s":"g","t":5.55,"lo":1.17,"hi":1.48},{"r":"C","c":"VOR","s":"g","t":6.23,"lo":1.31,"hi":1.61},{"r":"C","c":"VOR","s":"g","t":6.74,"lo":1.48,"hi":1.87},{"r":"C","c":"VOR","s":"g","t":7.16,"lo":1.48,"hi":1.91},{"r":"C","c":"VOR","s":"g","t":7.45,"lo":1.33,"hi":1.65},{"r":"C","c":"VOR","s":"g","t":7.8,"lo":1.08,"hi":1.39},{"r":"C","c":"VOR","s":"g","t":8.22,"lo":0.76,"hi":1.09},{"r":"C","c":"VOR","s":"g","t":8.77,"lo":0.7,"hi":1.0},{"r":"C","c":"VOR","s":"g","t":9.28,"lo":0.7,"hi":1.0},{"r":"C","c":"VOR","s":"g","t":9.62,"lo":0.87,"hi":1.17},{"r":"C","c":"VOR","s":"g","t":10,"lo":1.05,"hi":1.35},
{"r":"C","c":"VOR","s":"o","t":-2,"lo":1.91,"hi":2.31},{"r":"C","c":"VOR","s":"o","t":-1.48,"lo":1.39,"hi":1.7},{"r":"C","c":"VOR","s":"o","t":-0.89,"lo":1.48,"hi":1.78},{"r":"C","c":"VOR","s":"o","t":-0.21,"lo":1.48,"hi":1.74},{"r":"C","c":"VOR","s":"o","t":0.55,"lo":1.7,"hi":2.13},{"r":"C","c":"VOR","s":"o","t":0.97,"lo":1.65,"hi":1.91},{"r":"C","c":"VOR","s":"o","t":1.4,"lo":1.48,"hi":1.87},{"r":"C","c":"VOR","s":"o","t":1.82,"lo":1.31,"hi":1.61},{"r":"C","c":"VOR","s":"o","t":2.16,"lo":0.91,"hi":1.22},{"r":"C","c":"VOR","s":"o","t":2.5,"lo":0.83,"hi":1.09},{"r":"C","c":"VOR","s":"o","t":3.01,"lo":1.22,"hi":1.48},{"r":"C","c":"VOR","s":"o","t":3.69,"lo":1.26,"hi":1.57},{"r":"C","c":"VOR","s":"o","t":4.36,"lo":1.31,"hi":1.61},{"r":"C","c":"VOR","s":"o","t":5.04,"lo":1.22,"hi":1.52},{"r":"C","c":"VOR","s":"o","t":5.72,"lo":1.31,"hi":1.52},{"r":"C","c":"VOR","s":"o","t":6.23,"lo":1.26,"hi":1.57},{"r":"C","c":"VOR","s":"o","t":6.74,"lo":1.04,"hi":1.39},{"r":"C","c":"VOR","s":"o","t":7.25,"lo":1.0,"hi":1.31},{"r":"C","c":"VOR","s":"o","t":7.67,"lo":1.22,"hi":1.57},{"r":"C","c":"VOR","s":"o","t":8.18,"lo":1.74,"hi":2.13},{"r":"C","c":"VOR","s":"o","t":8.52,"lo":1.91,"hi":2.26},{"r":"C","c":"VOR","s":"o","t":9.11,"lo":1.48,"hi":1.83},{"r":"C","c":"VOR","s":"o","t":9.45,"lo":1.57,"hi":1.91},{"r":"C","c":"VOR","s":"o","t":9.62,"lo":1.78,"hi":2.05},{"r":"C","c":"VOR","s":"o","t":10,"lo":2.0,"hi":2.3}
]},
"concat":[
{"width":236,"height":155,"layer":[
 {"data":{"name":"tr"},"transform":[{"filter":"datum.c=='OKR'&&(datum.s=='1k'||datum.s=='2k')"}],"mark":{"type":"line","color":"black","strokeWidth":1.2},"encoding":{"x":{"field":"t","type":"quantitative","scale":{"domain":[-2,10],"nice":false,"zero":false},"axis":null},"y":{"field":"v","type":"quantitative","scale":{"domain":[0,34.44],"nice":false,"zero":false},"axis":null},"detail":{"field":"s"}}},
 {"data":{"name":"tr"},"transform":[{"filter":"datum.c=='OKR'&&datum.s=='1c'"}],"mark":{"type":"line","color":"#54a446","strokeWidth":2.7},"encoding":{"x":{"field":"t","type":"quantitative","scale":{"domain":[-2,10],"nice":false,"zero":false},"axis":null},"y":{"field":"v","type":"quantitative","scale":{"domain":[0,34.44],"nice":false,"zero":false},"axis":null}}},
 {"data":{"name":"tr"},"transform":[{"filter":"datum.c=='OKR'&&datum.s=='2c'"}],"mark":{"type":"line","color":"#f7952f","strokeWidth":2.7},"encoding":{"x":{"field":"t","type":"quantitative","scale":{"domain":[-2,10],"nice":false,"zero":false},"axis":null},"y":{"field":"v","type":"quantitative","scale":{"domain":[0,34.44],"nice":false,"zero":false},"axis":null}}},
 {"data":{"name":"tr"},"transform":[{"filter":"datum.c=='OKR'&&datum.s=='3'"}],"mark":{"type":"line","color":"#f7952f","strokeWidth":2.2},"encoding":{"x":{"field":"t","type":"quantitative","scale":{"domain":[-2,10],"nice":false,"zero":false},"axis":null},"y":{"field":"v","type":"quantitative","scale":{"domain":[0,34.44],"nice":false,"zero":false},"axis":null}}},
 {"data":{"values":[{"t":-3.68,"v":10.2,"v2":20.4}]},"mark":{"type":"rule","color":"black","strokeWidth":2},"encoding":{"x":{"field":"t","type":"quantitative","scale":{"domain":[-2,10],"nice":false,"zero":false},"axis":null},"y":{"field":"v","type":"quantitative","scale":{"domain":[0,34.44],"nice":false,"zero":false},"axis":null},"y2":{"field":"v2"}}},
 {"data":{"values":[{"t":-4.53,"v":15.3,"txt":"10°"}]},"mark":{"type":"text","angle":270,"align":"center","baseline":"middle"},"encoding":{"x":{"field":"t","type":"quantitative","scale":{"domain":[-2,10],"nice":false,"zero":false},"axis":null},"y":{"field":"v","type":"quantitative","scale":{"domain":[0,34.44],"nice":false,"zero":false},"axis":null},"text":{"field":"txt"}}},
 {"data":{"values":[{"t":-5.97,"v":29.7,"txt":"A"}]},"mark":{"type":"text","align":"left","baseline":"middle","fontStyle":"italic"},"encoding":{"x":{"field":"t","type":"quantitative","scale":{"domain":[-2,10],"nice":false,"zero":false},"axis":null},"y":{"field":"v","type":"quantitative","scale":{"domain":[0,34.44],"nice":false,"zero":false},"axis":null},"text":{"field":"txt"}}},
 {"data":{"values":[{"t":-2,"v":29.7,"txt":"OKR"}]},"mark":{"type":"text","align":"left","baseline":"middle"},"encoding":{"x":{"field":"t","type":"quantitative","scale":{"domain":[-2,10],"nice":false,"zero":false},"axis":null},"y":{"field":"v","type":"quantitative","scale":{"domain":[0,34.44],"nice":false,"zero":false},"axis":null},"text":{"field":"txt"}}}
]},
{"width":236,"height":155,"layer":[
 {"data":{"name":"tr"},"transform":[{"filter":"datum.c=='VVOR'&&(datum.s=='1k'||datum.s=='2k')"}],"mark":{"type":"line","color":"black","strokeWidth":1.2},"encoding":{"x":{"field":"t","type":"quantitative","scale":{"domain":[-2,10],"nice":false,"zero":false},"axis":null},"y":{"field":"v","type":"quantitative","scale":{"domain":[0,34.44],"nice":false,"zero":false},"axis":null},"detail":{"field":"s"}}},
 {"data":{"name":"tr"},"transform":[{"filter":"datum.c=='VVOR'&&datum.s=='1c'"}],"mark":{"type":"line","color":"#54a446","strokeWidth":2.7},"encoding":{"x":{"field":"t","type":"quantitative","scale":{"domain":[-2,10],"nice":false,"zero":false},"axis":null},"y":{"field":"v","type":"quantitative","scale":{"domain":[0,34.44],"nice":false,"zero":false},"axis":null}}},
 {"data":{"name":"tr"},"transform":[{"filter":"datum.c=='VVOR'&&datum.s=='2c'"}],"mark":{"type":"line","color":"#f7952f","strokeWidth":2.7},"encoding":{"x":{"field":"t","type":"quantitative","scale":{"domain":[-2,10],"nice":false,"zero":false},"axis":null},"y":{"field":"v","type":"quantitative","scale":{"domain":[0,34.44],"nice":false,"zero":false},"axis":null}}},
 {"data":{"name":"tr"},"transform":[{"filter":"datum.c=='VVOR'&&datum.s=='3'"}],"mark":{"type":"line","color":"#f7952f","strokeWidth":2.2},"encoding":{"x":{"field":"t","type":"quantitative","scale":{"domain":[-2,10],"nice":false,"zero":false},"axis":null},"y":{"field":"v","type":"quantitative","scale":{"domain":[0,34.44],"nice":false,"zero":false},"axis":null}}},
 {"data":{"values":[{"t":-2,"v":29.5,"txt":"VVOR"}]},"mark":{"type":"text","align":"left","baseline":"middle"},"encoding":{"x":{"field":"t","type":"quantitative","scale":{"domain":[-2,10],"nice":false,"zero":false},"axis":null},"y":{"field":"v","type":"quantitative","scale":{"domain":[0,34.44],"nice":false,"zero":false},"axis":null},"text":{"field":"txt"}}}
]},
{"width":236,"height":155,"layer":[
 {"data":{"name":"tr"},"transform":[{"filter":"datum.c=='VOR'&&(datum.s=='1k'||datum.s=='2k')"}],"mark":{"type":"line","color":"black","strokeWidth":1.2},"encoding":{"x":{"field":"t","type":"quantitative","scale":{"domain":[-2,10],"nice":false,"zero":false},"axis":null},"y":{"field":"v","type":"quantitative","scale":{"domain":[0,34.44],"nice":false,"zero":false},"axis":null},"detail":{"field":"s"}}},
 {"data":{"name":"tr"},"transform":[{"filter":"datum.c=='VOR'&&datum.s=='1c'"}],"mark":{"type":"line","color":"#54a446","strokeWidth":2.7},"encoding":{"x":{"field":"t","type":"quantitative","scale":{"domain":[-2,10],"nice":false,"zero":false},"axis":null},"y":{"field":"v","type":"quantitative","scale":{"domain":[0,34.44],"nice":false,"zero":false},"axis":null}}},
 {"data":{"name":"tr"},"transform":[{"filter":"datum.c=='VOR'&&datum.s=='2c'"}],"mark":{"type":"line","color":"#f7952f","strokeWidth":2.7},"encoding":{"x":{"field":"t","type":"quantitative","scale":{"domain":[-2,10],"nice":false,"zero":false},"axis":null},"y":{"field":"v","type":"quantitative","scale":{"domain":[0,34.44],"nice":false,"zero":false},"axis":null}}},
 {"data":{"name":"tr"},"transform":[{"filter":"datum.c=='VOR'&&datum.s=='3'"}],"mark":{"type":"line","color":"#f7952f","strokeWidth":2.2},"encoding":{"x":{"field":"t","type":"quantitative","scale":{"domain":[-2,10],"nice":false,"zero":false},"axis":null},"y":{"field":"v","type":"quantitative","scale":{"domain":[0,34.44],"nice":false,"zero":false},"axis":null}}},
 {"data":{"values":[{"t":-2,"v":29.5,"txt":"VOR"}]},"mark":{"type":"text","align":"left","baseline":"middle"},"encoding":{"x":{"field":"t","type":"quantitative","scale":{"domain":[-2,10],"nice":false,"zero":false},"axis":null},"y":{"field":"v","type":"quantitative","scale":{"domain":[0,34.44],"nice":false,"zero":false},"axis":null},"text":{"field":"txt"}}}
]},
{"width":236,"height":186,"layer":[
 {"data":{"name":"bands"},"transform":[{"filter":"datum.r=='B'&&datum.c=='OKR'&&datum.s=='g'"}],"mark":{"type":"area","fill":"#54a446","stroke":"black","strokeWidth":1},"encoding":{"x":{"field":"t","type":"quantitative","scale":{"domain":[-2,10],"nice":false,"zero":false},"axis":{"values":[-2,0,2,4,6,8,10],"labels":false,"title":null}},"y":{"field":"hi","type":"quantitative","scale":{"domain":[27.5,100],"nice":false,"zero":false},"axis":{"values":[40,60,80,100],"title":"Spikes/s","titleX":-53,"titleY":100,"titleBaseline":"middle"}},"y2":{"field":"lo"}}},
 {"data":{"name":"bands"},"transform":[{"filter":"datum.r=='B'&&datum.c=='OKR'&&datum.s=='o'"}],"mark":{"type":"area","fill":"#f7952f","stroke":"black","strokeWidth":1},"encoding":{"x":{"field":"t","type":"quantitative","scale":{"domain":[-2,10],"nice":false,"zero":false},"axis":{"values":[-2,0,2,4,6,8,10],"labels":false,"title":null}},"y":{"field":"hi","type":"quantitative","scale":{"domain":[27.5,100],"nice":false,"zero":false},"axis":{"values":[40,60,80,100],"title":"Spikes/s","titleX":-53,"titleY":100,"titleBaseline":"middle"}},"y2":{"field":"lo"}}},
 {"data":{"values":[{"t":-2.66,"t2":-1.43,"hi":30.54,"lo":36.4},{"t":-2.66,"t2":-1.43,"hi":31.83,"lo":37.55}]},"mark":{"type":"rule","color":"black","strokeWidth":1},"encoding":{"x":{"field":"t","type":"quantitative","scale":{"domain":[-2,10],"nice":false,"zero":false},"axis":{"values":[-2,0,2,4,6,8,10],"labels":false,"title":null}},"x2":{"field":"t2"},"y":{"field":"hi","type":"quantitative","scale":{"domain":[27.5,100],"nice":false,"zero":false},"axis":{"values":[40,60,80,100],"title":"Spikes/s","titleX":-53,"titleY":100,"titleBaseline":"middle"}},"y2":{"field":"lo"}}},
 {"data":{"values":[{"t":-5.97,"hi":109.35,"txt":"B"}]},"mark":{"type":"text","align":"left","baseline":"middle","fontStyle":"italic"},"encoding":{"x":{"field":"t","type":"quantitative","scale":{"domain":[-2,10],"nice":false,"zero":false},"axis":{"values":[-2,0,2,4,6,8,10],"labels":false,"title":null}},"y":{"field":"hi","type":"quantitative","scale":{"domain":[27.5,100],"nice":false,"zero":false},"axis":{"values":[40,60,80,100],"title":"Spikes/s","titleX":-53,"titleY":100,"titleBaseline":"middle"}},"text":{"field":"txt"}}},
 {"data":{"values":[{"t":-4.8,"hi":109.35,"txt":"Simple spikes"}]},"mark":{"type":"text","align":"left","baseline":"middle"},"encoding":{"x":{"field":"t","type":"quantitative","scale":{"domain":[-2,10],"nice":false,"zero":false},"axis":{"values":[-2,0,2,4,6,8,10],"labels":false,"title":null}},"y":{"field":"hi","type":"quantitative","scale":{"domain":[27.5,100],"nice":false,"zero":false},"axis":{"values":[40,60,80,100],"title":"Spikes/s","titleX":-53,"titleY":100,"titleBaseline":"middle"}},"text":{"field":"txt"}}}
]},
{"width":236,"height":186,"layer":[
 {"data":{"name":"bands"},"transform":[{"filter":"datum.r=='B'&&datum.c=='VVOR'&&datum.s=='g'"}],"mark":{"type":"area","fill":"#54a446","stroke":"black","strokeWidth":1},"encoding":{"x":{"field":"t","type":"quantitative","scale":{"domain":[-2,10],"nice":false,"zero":false},"axis":{"values":[-2,0,2,4,6,8,10],"labels":false,"title":null}},"y":{"field":"hi","type":"quantitative","scale":{"domain":[27.5,100],"nice":false,"zero":false},"axis":null},"y2":{"field":"lo"}}},
 {"data":{"name":"bands"},"transform":[{"filter":"datum.r=='B'&&datum.c=='VVOR'&&datum.s=='o'"}],"mark":{"type":"area","fill":"#f7952f","stroke":"black","strokeWidth":1},"encoding":{"x":{"field":"t","type":"quantitative","scale":{"domain":[-2,10],"nice":false,"zero":false},"axis":{"values":[-2,0,2,4,6,8,10],"labels":false,"title":null}},"y":{"field":"hi","type":"quantitative","scale":{"domain":[27.5,100],"nice":false,"zero":false},"axis":null},"y2":{"field":"lo"}}}
]},
{"width":236,"height":186,"layer":[
 {"data":{"name":"bands"},"transform":[{"filter":"datum.r=='B'&&datum.c=='VOR'&&datum.s=='g'"}],"mark":{"type":"area","fill":"#54a446","stroke":"black","strokeWidth":1},"encoding":{"x":{"field":"t","type":"quantitative","scale":{"domain":[-2,10],"nice":false,"zero":false},"axis":{"values":[-2,0,2,4,6,8,10],"labels":false,"title":null}},"y":{"field":"hi","type":"quantitative","scale":{"domain":[27.5,100],"nice":false,"zero":false},"axis":null},"y2":{"field":"lo"}}},
 {"data":{"name":"bands"},"transform":[{"filter":"datum.r=='B'&&datum.c=='VOR'&&datum.s=='o'"}],"mark":{"type":"area","fill":"#f7952f","stroke":"black","strokeWidth":1},"encoding":{"x":{"field":"t","type":"quantitative","scale":{"domain":[-2,10],"nice":false,"zero":false},"axis":{"values":[-2,0,2,4,6,8,10],"labels":false,"title":null}},"y":{"field":"hi","type":"quantitative","scale":{"domain":[27.5,100],"nice":false,"zero":false},"axis":null},"y2":{"field":"lo"}}}
]},
{"width":236,"height":191,"layer":[
 {"data":{"name":"bands"},"transform":[{"filter":"datum.r=='C'&&datum.c=='OKR'&&datum.s=='g'"}],"mark":{"type":"area","fill":"#54a446","stroke":"black","strokeWidth":1},"encoding":{"x":{"field":"t","type":"quantitative","scale":{"domain":[-2,10],"nice":false,"zero":false},"axis":{"values":[-2,0,2,4,6,8,10],"labelExpr":"datum.value==-2||datum.value==10?'':datum.label","title":"Time [s]"}},"y":{"field":"hi","type":"quantitative","scale":{"domain":[0,5],"nice":false,"zero":false},"axis":{"values":[1,2,3,4],"title":"Spikes/s","titleX":-53,"titleY":105,"titleBaseline":"middle"}},"y2":{"field":"lo"}}},
 {"data":{"name":"bands"},"transform":[{"filter":"datum.r=='C'&&datum.c=='OKR'&&datum.s=='o'"}],"mark":{"type":"area","fill":"#f7952f","stroke":"black","strokeWidth":1},"encoding":{"x":{"field":"t","type":"quantitative","scale":{"domain":[-2,10],"nice":false,"zero":false},"axis":{"values":[-2,0,2,4,6,8,10],"labelExpr":"datum.value==-2||datum.value==10?'':datum.label","title":"Time [s]"}},"y":{"field":"hi","type":"quantitative","scale":{"domain":[0,5],"nice":false,"zero":false},"axis":{"values":[1,2,3,4],"title":"Spikes/s","titleX":-53,"titleY":105,"titleBaseline":"middle"}},"y2":{"field":"lo"}}},
 {"data":{"values":[{"t":-5.97,"hi":5.3,"txt":"C"}]},"mark":{"type":"text","align":"left","baseline":"middle","fontStyle":"italic"},"encoding":{"x":{"field":"t","type":"quantitative","scale":{"domain":[-2,10],"nice":false,"zero":false},"axis":{"values":[-2,0,2,4,6,8,10],"labelExpr":"datum.value==-2||datum.value==10?'':datum.label","title":"Time [s]"}},"y":{"field":"hi","type":"quantitative","scale":{"domain":[0,5],"nice":false,"zero":false},"axis":{"values":[1,2,3,4],"title":"Spikes/s","titleX":-53,"titleY":105,"titleBaseline":"middle"}},"text":{"field":"txt"}}},
 {"data":{"values":[{"t":-4.75,"hi":5.3,"txt":"Complex spikes"}]},"mark":{"type":"text","align":"left","baseline":"middle"},"encoding":{"x":{"field":"t","type":"quantitative","scale":{"domain":[-2,10],"nice":false,"zero":false},"axis":{"values":[-2,0,2,4,6,8,10],"labelExpr":"datum.value==-2||datum.value==10?'':datum.label","title":"Time [s]"}},"y":{"field":"hi","type":"quantitative","scale":{"domain":[0,5],"nice":false,"zero":false},"axis":{"values":[1,2,3,4],"title":"Spikes/s","titleX":-53,"titleY":105,"titleBaseline":"middle"}},"text":{"field":"txt"}}}
]},
{"width":236,"height":191,"layer":[
 {"data":{"name":"bands"},"transform":[{"filter":"datum.r=='C'&&datum.c=='VVOR'&&datum.s=='g'"}],"mark":{"type":"area","fill":"#54a446","stroke":"black","strokeWidth":1},"encoding":{"x":{"field":"t","type":"quantitative","scale":{"domain":[-2,10],"nice":false,"zero":false},"axis":{"values":[-2,0,2,4,6,8,10],"labelExpr":"datum.value==-2||datum.value==10?'':datum.label","title":"Time [s]"}},"y":{"field":"hi","type":"quantitative","scale":{"domain":[0,5],"nice":false,"zero":false},"axis":null},"y2":{"field":"lo"}}},
 {"data":{"name":"bands"},"transform":[{"filter":"datum.r=='C'&&datum.c=='VVOR'&&datum.s=='o'"}],"mark":{"type":"area","fill":"#f7952f","stroke":"black","strokeWidth":1},"encoding":{"x":{"field":"t","type":"quantitative","scale":{"domain":[-2,10],"nice":false,"zero":false},"axis":{"values":[-2,0,2,4,6,8,10],"labelExpr":"datum.value==-2||datum.value==10?'':datum.label","title":"Time [s]"}},"y":{"field":"hi","type":"quantitative","scale":{"domain":[0,5],"nice":false,"zero":false},"axis":null},"y2":{"field":"lo"}}}
]},
{"width":236,"height":191,"layer":[
 {"data":{"name":"bands"},"transform":[{"filter":"datum.r=='C'&&datum.c=='VOR'&&datum.s=='g'"}],"mark":{"type":"area","fill":"#54a446","stroke":"black","strokeWidth":1},"encoding":{"x":{"field":"t","type":"quantitative","scale":{"domain":[-2,10],"nice":false,"zero":false},"axis":{"values":[-2,0,2,4,6,8,10],"labelExpr":"datum.value==-2||datum.value==10?'':datum.label","title":"Time [s]"}},"y":{"field":"hi","type":"quantitative","scale":{"domain":[0,5],"nice":false,"zero":false},"axis":null},"y2":{"field":"lo"}}},
 {"data":{"name":"bands"},"transform":[{"filter":"datum.r=='C'&&datum.c=='VOR'&&datum.s=='o'"}],"mark":{"type":"area","fill":"#f7952f","stroke":"black","strokeWidth":1},"encoding":{"x":{"field":"t","type":"quantitative","scale":{"domain":[-2,10],"nice":false,"zero":false},"axis":{"values":[-2,0,2,4,6,8,10],"labelExpr":"datum.value==-2||datum.value==10?'':datum.label","title":"Time [s]"}},"y":{"field":"hi","type":"quantitative","scale":{"domain":[0,5],"nice":false,"zero":false},"axis":null},"y2":{"field":"lo"}}}
]}
]
}
